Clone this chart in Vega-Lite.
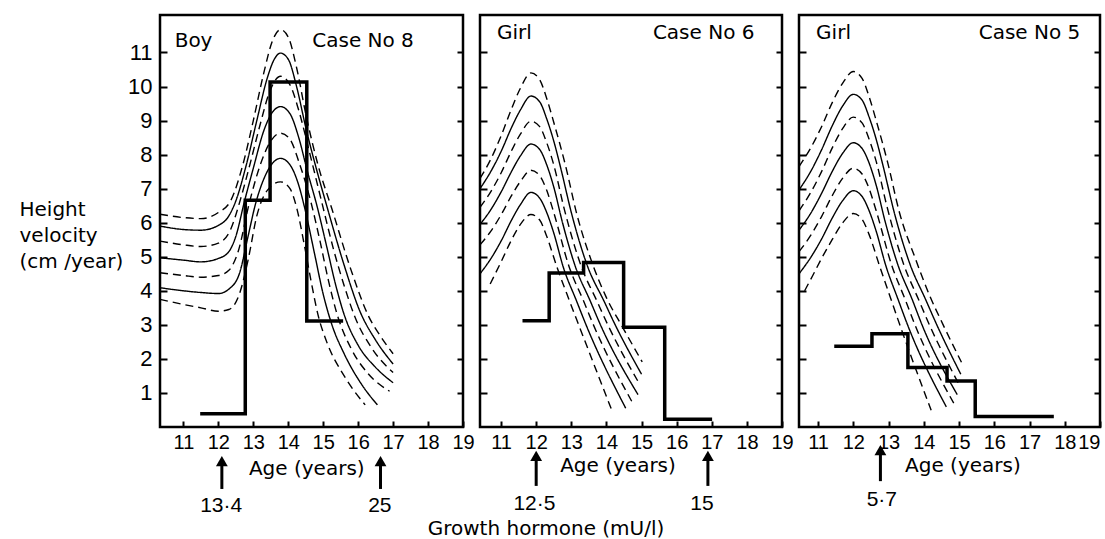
{
  "$schema": "https://vega.github.io/schema/vega-lite/v6.json",
  "background": "white",
  "autosize": {"type": "pad"},
  "padding": {"left": 17, "top": 13, "right": 0, "bottom": 0},
  "spacing": 17,
  "bounds": "flush",
  "config": {
    "view": {"stroke": "black", "strokeWidth": 2.5},
    "axis": {"domain": false, "grid": false, "tickColor": "black", "tickWidth": 2, "labelColor": "black", "titleColor": "black", "labelFont": "Liberation Sans Narrow, Liberation Sans"}
  },
  "datasets": {
    "curves": [
      {"p":1,"c":"c1","t":"dashed","age":10.33,"v":6.25},{"p":1,"c":"c1","t":"dashed","age":11,"v":6.15},{"p":1,"c":"c1","t":"dashed","age":11.5,"v":6.12},{"p":1,"c":"c1","t":"dashed","age":12,"v":6.3},{"p":1,"c":"c1","t":"dashed","age":12.35,"v":6.64},{"p":1,"c":"c1","t":"dashed","age":12.7,"v":7.7},{"p":1,"c":"c1","t":"dashed","age":13.0,"v":9.0},{"p":1,"c":"c1","t":"dashed","age":13.3,"v":10.4},{"p":1,"c":"c1","t":"dashed","age":13.55,"v":11.35},{"p":1,"c":"c1","t":"dashed","age":13.78,"v":11.67},{"p":1,"c":"c1","t":"dashed","age":14.0,"v":11.45},{"p":1,"c":"c1","t":"dashed","age":14.25,"v":10.5},{"p":1,"c":"c1","t":"dashed","age":14.5,"v":9.2},{"p":1,"c":"c1","t":"dashed","age":14.85,"v":7.7},{"p":1,"c":"c1","t":"dashed","age":15.25,"v":6.4},{"p":1,"c":"c1","t":"dashed","age":15.8,"v":4.6},{"p":1,"c":"c1","t":"dashed","age":16.3,"v":3.25},{"p":1,"c":"c1","t":"dashed","age":16.65,"v":2.65},{"p":1,"c":"c1","t":"dashed","age":17.0,"v":2.15},
      {"p":1,"c":"c2","t":"solid","age":10.33,"v":5.9},{"p":1,"c":"c2","t":"solid","age":11,"v":5.8},{"p":1,"c":"c2","t":"solid","age":11.5,"v":5.78},{"p":1,"c":"c2","t":"solid","age":12,"v":5.92},{"p":1,"c":"c2","t":"solid","age":12.3,"v":6.2},{"p":1,"c":"c2","t":"solid","age":12.5,"v":6.64},{"p":1,"c":"c2","t":"solid","age":12.8,"v":7.7},{"p":1,"c":"c2","t":"solid","age":13.1,"v":9.0},{"p":1,"c":"c2","t":"solid","age":13.4,"v":10.25},{"p":1,"c":"c2","t":"solid","age":13.6,"v":10.8},{"p":1,"c":"c2","t":"solid","age":13.78,"v":10.98},{"p":1,"c":"c2","t":"solid","age":14.0,"v":10.8},{"p":1,"c":"c2","t":"solid","age":14.25,"v":9.95},{"p":1,"c":"c2","t":"solid","age":14.5,"v":8.8},{"p":1,"c":"c2","t":"solid","age":14.8,"v":7.6},{"p":1,"c":"c2","t":"solid","age":15.1,"v":6.5},{"p":1,"c":"c2","t":"solid","age":15.6,"v":4.75},{"p":1,"c":"c2","t":"solid","age":16.05,"v":3.4},{"p":1,"c":"c2","t":"solid","age":16.5,"v":2.55},{"p":1,"c":"c2","t":"solid","age":17.0,"v":1.85},
      {"p":1,"c":"c3","t":"dashed","age":10.33,"v":5.46},{"p":1,"c":"c3","t":"dashed","age":11,"v":5.35},{"p":1,"c":"c3","t":"dashed","age":11.5,"v":5.3},{"p":1,"c":"c3","t":"dashed","age":12,"v":5.4},{"p":1,"c":"c3","t":"dashed","age":12.35,"v":5.8},{"p":1,"c":"c3","t":"dashed","age":12.62,"v":6.64},{"p":1,"c":"c3","t":"dashed","age":12.9,"v":7.7},{"p":1,"c":"c3","t":"dashed","age":13.2,"v":8.9},{"p":1,"c":"c3","t":"dashed","age":13.45,"v":9.8},{"p":1,"c":"c3","t":"dashed","age":13.78,"v":10.3},{"p":1,"c":"c3","t":"dashed","age":14.05,"v":10.05},{"p":1,"c":"c3","t":"dashed","age":14.3,"v":9.3},{"p":1,"c":"c3","t":"dashed","age":14.6,"v":8.1},{"p":1,"c":"c3","t":"dashed","age":14.95,"v":6.64},{"p":1,"c":"c3","t":"dashed","age":15.3,"v":5.2},{"p":1,"c":"c3","t":"dashed","age":15.6,"v":4.15},{"p":1,"c":"c3","t":"dashed","age":15.9,"v":3.25},{"p":1,"c":"c3","t":"dashed","age":16.4,"v":2.3},{"p":1,"c":"c3","t":"dashed","age":17.0,"v":1.6},
      {"p":1,"c":"c4","t":"solid","age":10.33,"v":4.97},{"p":1,"c":"c4","t":"solid","age":11,"v":4.9},{"p":1,"c":"c4","t":"solid","age":11.5,"v":4.85},{"p":1,"c":"c4","t":"solid","age":12,"v":4.95},{"p":1,"c":"c4","t":"solid","age":12.3,"v":5.15},{"p":1,"c":"c4","t":"solid","age":12.5,"v":5.6},{"p":1,"c":"c4","t":"solid","age":12.75,"v":6.64},{"p":1,"c":"c4","t":"solid","age":13.0,"v":7.6},{"p":1,"c":"c4","t":"solid","age":13.3,"v":8.7},{"p":1,"c":"c4","t":"solid","age":13.55,"v":9.25},{"p":1,"c":"c4","t":"solid","age":13.78,"v":9.41},{"p":1,"c":"c4","t":"solid","age":14.05,"v":9.2},{"p":1,"c":"c4","t":"solid","age":14.3,"v":8.5},{"p":1,"c":"c4","t":"solid","age":14.55,"v":7.5},{"p":1,"c":"c4","t":"solid","age":14.82,"v":6.5},{"p":1,"c":"c4","t":"solid","age":15.1,"v":5.3},{"p":1,"c":"c4","t":"solid","age":15.35,"v":4.2},{"p":1,"c":"c4","t":"solid","age":15.6,"v":3.3},{"p":1,"c":"c4","t":"solid","age":16.0,"v":2.4},{"p":1,"c":"c4","t":"solid","age":16.5,"v":1.75},{"p":1,"c":"c4","t":"solid","age":17.0,"v":1.3},
      {"p":1,"c":"c5","t":"dashed","age":10.33,"v":4.53},{"p":1,"c":"c5","t":"dashed","age":11,"v":4.45},{"p":1,"c":"c5","t":"dashed","age":11.5,"v":4.4},{"p":1,"c":"c5","t":"dashed","age":12,"v":4.45},{"p":1,"c":"c5","t":"dashed","age":12.3,"v":4.6},{"p":1,"c":"c5","t":"dashed","age":12.55,"v":5.1},{"p":1,"c":"c5","t":"dashed","age":12.9,"v":6.64},{"p":1,"c":"c5","t":"dashed","age":13.2,"v":7.7},{"p":1,"c":"c5","t":"dashed","age":13.5,"v":8.4},{"p":1,"c":"c5","t":"dashed","age":13.78,"v":8.63},{"p":1,"c":"c5","t":"dashed","age":14.05,"v":8.45},{"p":1,"c":"c5","t":"dashed","age":14.3,"v":7.8},{"p":1,"c":"c5","t":"dashed","age":14.65,"v":6.6},{"p":1,"c":"c5","t":"dashed","age":14.9,"v":5.5},{"p":1,"c":"c5","t":"dashed","age":15.15,"v":4.3},{"p":1,"c":"c5","t":"dashed","age":15.4,"v":3.3},{"p":1,"c":"c5","t":"dashed","age":15.8,"v":2.3},{"p":1,"c":"c5","t":"dashed","age":16.3,"v":1.55},{"p":1,"c":"c5","t":"dashed","age":16.9,"v":1.05},
      {"p":1,"c":"c6","t":"solid","age":10.33,"v":4.09},{"p":1,"c":"c6","t":"solid","age":11,"v":4.0},{"p":1,"c":"c6","t":"solid","age":11.5,"v":3.95},{"p":1,"c":"c6","t":"solid","age":12,"v":3.92},{"p":1,"c":"c6","t":"solid","age":12.3,"v":4.05},{"p":1,"c":"c6","t":"solid","age":12.6,"v":4.5},{"p":1,"c":"c6","t":"solid","age":12.85,"v":5.6},{"p":1,"c":"c6","t":"solid","age":13.05,"v":6.5},{"p":1,"c":"c6","t":"solid","age":13.35,"v":7.4},{"p":1,"c":"c6","t":"solid","age":13.78,"v":7.89},{"p":1,"c":"c6","t":"solid","age":14.05,"v":7.7},{"p":1,"c":"c6","t":"solid","age":14.3,"v":7.1},{"p":1,"c":"c6","t":"solid","age":14.5,"v":6.3},{"p":1,"c":"c6","t":"solid","age":14.75,"v":5.1},{"p":1,"c":"c6","t":"solid","age":15.0,"v":3.9},{"p":1,"c":"c6","t":"solid","age":15.25,"v":3.0},{"p":1,"c":"c6","t":"solid","age":15.6,"v":2.15},{"p":1,"c":"c6","t":"solid","age":16.1,"v":1.25},{"p":1,"c":"c6","t":"solid","age":16.55,"v":0.65},
      {"p":1,"c":"c7","t":"dashed","age":10.33,"v":3.75},{"p":1,"c":"c7","t":"dashed","age":11,"v":3.6},{"p":1,"c":"c7","t":"dashed","age":11.5,"v":3.5},{"p":1,"c":"c7","t":"dashed","age":12,"v":3.4},{"p":1,"c":"c7","t":"dashed","age":12.3,"v":3.45},{"p":1,"c":"c7","t":"dashed","age":12.6,"v":3.9},{"p":1,"c":"c7","t":"dashed","age":12.85,"v":4.9},{"p":1,"c":"c7","t":"dashed","age":13.1,"v":6.2},{"p":1,"c":"c7","t":"dashed","age":13.4,"v":6.95},{"p":1,"c":"c7","t":"dashed","age":13.78,"v":7.2},{"p":1,"c":"c7","t":"dashed","age":14.05,"v":7.0},{"p":1,"c":"c7","t":"dashed","age":14.25,"v":6.4},{"p":1,"c":"c7","t":"dashed","age":14.45,"v":5.4},{"p":1,"c":"c7","t":"dashed","age":14.65,"v":4.3},{"p":1,"c":"c7","t":"dashed","age":14.85,"v":3.3},{"p":1,"c":"c7","t":"dashed","age":15.1,"v":2.5},{"p":1,"c":"c7","t":"dashed","age":15.6,"v":1.5},{"p":1,"c":"c7","t":"dashed","age":16.2,"v":0.65},

      {"p":2,"c":"d1","t":"dashed","age":10.4,"v":7.3},{"p":2,"c":"d1","t":"dashed","age":10.7,"v":7.85},{"p":2,"c":"d1","t":"dashed","age":11.0,"v":8.55},{"p":2,"c":"d1","t":"dashed","age":11.3,"v":9.35},{"p":2,"c":"d1","t":"dashed","age":11.55,"v":9.95},{"p":2,"c":"d1","t":"dashed","age":11.85,"v":10.4},{"p":2,"c":"d1","t":"dashed","age":12.1,"v":10.2},{"p":2,"c":"d1","t":"dashed","age":12.3,"v":9.65},{"p":2,"c":"d1","t":"dashed","age":12.5,"v":8.95},{"p":2,"c":"d1","t":"dashed","age":12.83,"v":7.7},{"p":2,"c":"d1","t":"dashed","age":13.16,"v":6.24},{"p":2,"c":"d1","t":"dashed","age":13.6,"v":4.8},{"p":2,"c":"d1","t":"dashed","age":14.0,"v":3.8},{"p":2,"c":"d1","t":"dashed","age":14.45,"v":2.95},{"p":2,"c":"d1","t":"dashed","age":15.02,"v":1.91},
      {"p":2,"c":"d2","t":"solid","age":10.4,"v":7.0},{"p":2,"c":"d2","t":"solid","age":10.7,"v":7.49},{"p":2,"c":"d2","t":"solid","age":11.0,"v":8.09},{"p":2,"c":"d2","t":"solid","age":11.3,"v":8.8},{"p":2,"c":"d2","t":"solid","age":11.55,"v":9.31},{"p":2,"c":"d2","t":"solid","age":11.85,"v":9.72},{"p":2,"c":"d2","t":"solid","age":12.1,"v":9.55},{"p":2,"c":"d2","t":"solid","age":12.3,"v":9.05},{"p":2,"c":"d2","t":"solid","age":12.5,"v":8.4},{"p":2,"c":"d2","t":"solid","age":12.7,"v":7.6},{"p":2,"c":"d2","t":"solid","age":13.0,"v":6.3},{"p":2,"c":"d2","t":"solid","age":13.47,"v":4.7},{"p":2,"c":"d2","t":"solid","age":13.93,"v":3.7},{"p":2,"c":"d2","t":"solid","age":14.25,"v":3.0},{"p":2,"c":"d2","t":"solid","age":15.0,"v":1.55},
      {"p":2,"c":"d3","t":"dashed","age":10.4,"v":6.45},{"p":2,"c":"d3","t":"dashed","age":10.7,"v":6.9},{"p":2,"c":"d3","t":"dashed","age":11.0,"v":7.46},{"p":2,"c":"d3","t":"dashed","age":11.3,"v":8.12},{"p":2,"c":"d3","t":"dashed","age":11.55,"v":8.6},{"p":2,"c":"d3","t":"dashed","age":11.85,"v":8.98},{"p":2,"c":"d3","t":"dashed","age":12.1,"v":8.82},{"p":2,"c":"d3","t":"dashed","age":12.3,"v":8.35},{"p":2,"c":"d3","t":"dashed","age":12.5,"v":7.7},{"p":2,"c":"d3","t":"dashed","age":12.8,"v":6.4},{"p":2,"c":"d3","t":"dashed","age":13.29,"v":4.7},{"p":2,"c":"d3","t":"dashed","age":13.73,"v":3.7},{"p":2,"c":"d3","t":"dashed","age":14.04,"v":3.0},{"p":2,"c":"d3","t":"dashed","age":14.95,"v":1.25},
      {"p":2,"c":"d4","t":"solid","age":10.4,"v":5.95},{"p":2,"c":"d4","t":"solid","age":10.7,"v":6.37},{"p":2,"c":"d4","t":"solid","age":11.0,"v":6.9},{"p":2,"c":"d4","t":"solid","age":11.3,"v":7.51},{"p":2,"c":"d4","t":"solid","age":11.55,"v":7.96},{"p":2,"c":"d4","t":"solid","age":11.85,"v":8.31},{"p":2,"c":"d4","t":"solid","age":12.1,"v":8.15},{"p":2,"c":"d4","t":"solid","age":12.3,"v":7.7},{"p":2,"c":"d4","t":"solid","age":12.5,"v":7.05},{"p":2,"c":"d4","t":"solid","age":12.75,"v":6.0},{"p":2,"c":"d4","t":"solid","age":13.12,"v":4.7},{"p":2,"c":"d4","t":"solid","age":13.54,"v":3.7},{"p":2,"c":"d4","t":"solid","age":13.83,"v":3.0},{"p":2,"c":"d4","t":"solid","age":14.9,"v":0.95},
      {"p":2,"c":"d5","t":"dashed","age":10.4,"v":5.35},{"p":2,"c":"d5","t":"dashed","age":10.7,"v":5.74},{"p":2,"c":"d5","t":"dashed","age":11.0,"v":6.23},{"p":2,"c":"d5","t":"dashed","age":11.3,"v":6.8},{"p":2,"c":"d5","t":"dashed","age":11.55,"v":7.21},{"p":2,"c":"d5","t":"dashed","age":11.85,"v":7.54},{"p":2,"c":"d5","t":"dashed","age":12.1,"v":7.38},{"p":2,"c":"d5","t":"dashed","age":12.3,"v":6.95},{"p":2,"c":"d5","t":"dashed","age":12.5,"v":6.3},{"p":2,"c":"d5","t":"dashed","age":12.94,"v":4.7},{"p":2,"c":"d5","t":"dashed","age":13.35,"v":3.7},{"p":2,"c":"d5","t":"dashed","age":13.63,"v":3.0},{"p":2,"c":"d5","t":"dashed","age":14.75,"v":0.7},
      {"p":2,"c":"d6","t":"solid","age":10.4,"v":4.5},{"p":2,"c":"d6","t":"solid","age":10.7,"v":4.93},{"p":2,"c":"d6","t":"solid","age":11.0,"v":5.46},{"p":2,"c":"d6","t":"solid","age":11.3,"v":6.08},{"p":2,"c":"d6","t":"solid","age":11.55,"v":6.53},{"p":2,"c":"d6","t":"solid","age":11.85,"v":6.89},{"p":2,"c":"d6","t":"solid","age":12.1,"v":6.72},{"p":2,"c":"d6","t":"solid","age":12.3,"v":6.3},{"p":2,"c":"d6","t":"solid","age":12.5,"v":5.7},{"p":2,"c":"d6","t":"solid","age":12.77,"v":4.7},{"p":2,"c":"d6","t":"solid","age":13.15,"v":3.7},{"p":2,"c":"d6","t":"solid","age":13.42,"v":3.0},{"p":2,"c":"d6","t":"solid","age":14.55,"v":0.55},
      {"p":2,"c":"d7","t":"dashed","age":10.69,"v":4.2},{"p":2,"c":"d7","t":"dashed","age":11.0,"v":4.85},{"p":2,"c":"d7","t":"dashed","age":11.3,"v":5.5},{"p":2,"c":"d7","t":"dashed","age":11.55,"v":5.95},{"p":2,"c":"d7","t":"dashed","age":11.85,"v":6.24},{"p":2,"c":"d7","t":"dashed","age":12.1,"v":6.08},{"p":2,"c":"d7","t":"dashed","age":12.3,"v":5.6},{"p":2,"c":"d7","t":"dashed","age":12.59,"v":4.7},{"p":2,"c":"d7","t":"dashed","age":12.95,"v":3.7},{"p":2,"c":"d7","t":"dashed","age":13.21,"v":3.0},{"p":2,"c":"d7","t":"dashed","age":14.15,"v":0.5},

      {"p":3,"c":"e1","t":"dashed","age":10.46,"v":7.65},{"p":3,"c":"e1","t":"dashed","age":10.8,"v":8.21},{"p":3,"c":"e1","t":"dashed","age":11.1,"v":8.82},{"p":3,"c":"e1","t":"dashed","age":11.4,"v":9.52},{"p":3,"c":"e1","t":"dashed","age":11.7,"v":10.1},{"p":3,"c":"e1","t":"dashed","age":12.0,"v":10.44},{"p":3,"c":"e1","t":"dashed","age":12.25,"v":10.24},{"p":3,"c":"e1","t":"dashed","age":12.45,"v":9.7},{"p":3,"c":"e1","t":"dashed","age":12.65,"v":9.0},{"p":3,"c":"e1","t":"dashed","age":12.98,"v":7.75},{"p":3,"c":"e1","t":"dashed","age":13.31,"v":6.3},{"p":3,"c":"e1","t":"dashed","age":13.76,"v":4.95},{"p":3,"c":"e1","t":"dashed","age":14.15,"v":3.9},{"p":3,"c":"e1","t":"dashed","age":14.55,"v":3.0},{"p":3,"c":"e1","t":"dashed","age":15.07,"v":1.9},
      {"p":3,"c":"e2","t":"solid","age":10.46,"v":6.96},{"p":3,"c":"e2","t":"solid","age":10.8,"v":7.52},{"p":3,"c":"e2","t":"solid","age":11.1,"v":8.14},{"p":3,"c":"e2","t":"solid","age":11.4,"v":8.84},{"p":3,"c":"e2","t":"solid","age":11.7,"v":9.43},{"p":3,"c":"e2","t":"solid","age":12.0,"v":9.77},{"p":3,"c":"e2","t":"solid","age":12.25,"v":9.6},{"p":3,"c":"e2","t":"solid","age":12.45,"v":9.1},{"p":3,"c":"e2","t":"solid","age":12.65,"v":8.45},{"p":3,"c":"e2","t":"solid","age":12.85,"v":7.65},{"p":3,"c":"e2","t":"solid","age":13.15,"v":6.35},{"p":3,"c":"e2","t":"solid","age":13.62,"v":4.75},{"p":3,"c":"e2","t":"solid","age":14.05,"v":3.75},{"p":3,"c":"e2","t":"solid","age":14.37,"v":3.0},{"p":3,"c":"e2","t":"solid","age":15.05,"v":1.55},
      {"p":3,"c":"e3","t":"dashed","age":10.46,"v":6.35},{"p":3,"c":"e3","t":"dashed","age":10.8,"v":6.9},{"p":3,"c":"e3","t":"dashed","age":11.1,"v":7.5},{"p":3,"c":"e3","t":"dashed","age":11.4,"v":8.19},{"p":3,"c":"e3","t":"dashed","age":11.7,"v":8.77},{"p":3,"c":"e3","t":"dashed","age":12.0,"v":9.1},{"p":3,"c":"e3","t":"dashed","age":12.25,"v":8.93},{"p":3,"c":"e3","t":"dashed","age":12.45,"v":8.45},{"p":3,"c":"e3","t":"dashed","age":12.65,"v":7.8},{"p":3,"c":"e3","t":"dashed","age":12.95,"v":6.5},{"p":3,"c":"e3","t":"dashed","age":13.44,"v":4.75},{"p":3,"c":"e3","t":"dashed","age":13.85,"v":3.75},{"p":3,"c":"e3","t":"dashed","age":14.16,"v":3.0},{"p":3,"c":"e3","t":"dashed","age":15.0,"v":1.25},
      {"p":3,"c":"e4","t":"solid","age":10.46,"v":5.78},{"p":3,"c":"e4","t":"solid","age":10.8,"v":6.29},{"p":3,"c":"e4","t":"solid","age":11.1,"v":6.86},{"p":3,"c":"e4","t":"solid","age":11.4,"v":7.5},{"p":3,"c":"e4","t":"solid","age":11.7,"v":8.04},{"p":3,"c":"e4","t":"solid","age":12.0,"v":8.35},{"p":3,"c":"e4","t":"solid","age":12.25,"v":8.18},{"p":3,"c":"e4","t":"solid","age":12.45,"v":7.75},{"p":3,"c":"e4","t":"solid","age":12.65,"v":7.1},{"p":3,"c":"e4","t":"solid","age":12.9,"v":6.05},{"p":3,"c":"e4","t":"solid","age":13.27,"v":4.75},{"p":3,"c":"e4","t":"solid","age":13.67,"v":3.75},{"p":3,"c":"e4","t":"solid","age":13.95,"v":3.0},{"p":3,"c":"e4","t":"solid","age":14.95,"v":0.95},
      {"p":3,"c":"e5","t":"dashed","age":10.46,"v":5.15},{"p":3,"c":"e5","t":"dashed","age":10.8,"v":5.64},{"p":3,"c":"e5","t":"dashed","age":11.1,"v":6.18},{"p":3,"c":"e5","t":"dashed","age":11.4,"v":6.79},{"p":3,"c":"e5","t":"dashed","age":11.7,"v":7.31},{"p":3,"c":"e5","t":"dashed","age":12.0,"v":7.6},{"p":3,"c":"e5","t":"dashed","age":12.25,"v":7.43},{"p":3,"c":"e5","t":"dashed","age":12.45,"v":7.0},{"p":3,"c":"e5","t":"dashed","age":12.65,"v":6.35},{"p":3,"c":"e5","t":"dashed","age":13.09,"v":4.75},{"p":3,"c":"e5","t":"dashed","age":13.47,"v":3.75},{"p":3,"c":"e5","t":"dashed","age":13.75,"v":3.0},{"p":3,"c":"e5","t":"dashed","age":14.85,"v":0.7},
      {"p":3,"c":"e6","t":"solid","age":10.46,"v":4.5},{"p":3,"c":"e6","t":"solid","age":10.8,"v":4.99},{"p":3,"c":"e6","t":"solid","age":11.1,"v":5.52},{"p":3,"c":"e6","t":"solid","age":11.4,"v":6.13},{"p":3,"c":"e6","t":"solid","age":11.7,"v":6.65},{"p":3,"c":"e6","t":"solid","age":12.0,"v":6.94},{"p":3,"c":"e6","t":"solid","age":12.25,"v":6.77},{"p":3,"c":"e6","t":"solid","age":12.45,"v":6.35},{"p":3,"c":"e6","t":"solid","age":12.65,"v":5.75},{"p":3,"c":"e6","t":"solid","age":12.92,"v":4.75},{"p":3,"c":"e6","t":"solid","age":13.27,"v":3.75},{"p":3,"c":"e6","t":"solid","age":13.54,"v":3.0},{"p":3,"c":"e6","t":"solid","age":14.64,"v":0.59},
      {"p":3,"c":"e7","t":"dashed","age":10.62,"v":4.0},{"p":3,"c":"e7","t":"dashed","age":10.85,"v":4.45},{"p":3,"c":"e7","t":"dashed","age":11.1,"v":4.95},{"p":3,"c":"e7","t":"dashed","age":11.4,"v":5.5},{"p":3,"c":"e7","t":"dashed","age":11.7,"v":6.0},{"p":3,"c":"e7","t":"dashed","age":12.0,"v":6.27},{"p":3,"c":"e7","t":"dashed","age":12.25,"v":6.1},{"p":3,"c":"e7","t":"dashed","age":12.45,"v":5.65},{"p":3,"c":"e7","t":"dashed","age":12.74,"v":4.75},{"p":3,"c":"e7","t":"dashed","age":13.07,"v":3.75},{"p":3,"c":"e7","t":"dashed","age":13.32,"v":3.0},{"p":3,"c":"e7","t":"dashed","age":14.21,"v":0.49}
    ],
    "steps": [
      {"p":1,"age":11.48,"v":0.39},{"p":1,"age":12.77,"v":6.66},{"p":1,"age":13.48,"v":10.13},{"p":1,"age":14.53,"v":3.11},{"p":1,"age":15.57,"v":3.11},
      {"p":2,"age":11.61,"v":3.12},{"p":2,"age":12.37,"v":4.52},{"p":2,"age":13.35,"v":4.83},{"p":2,"age":14.49,"v":2.93},{"p":2,"age":15.66,"v":0.23},{"p":2,"age":17.01,"v":0.23},
      {"p":3,"age":11.46,"v":2.37},{"p":3,"age":12.53,"v":2.74},{"p":3,"age":13.55,"v":1.75},{"p":3,"age":14.66,"v":1.35},{"p":3,"age":15.46,"v":0.31},{"p":3,"age":17.69,"v":0.31}
    ],
    "texts": [
      {"p":1,"k":"w","s":"Boy","age":11.29,"v":11.33},
      {"p":1,"k":"w","s":"Case No 8","age":16.14,"v":11.33},
      {"p":1,"k":"w","s":"Age (years)","age":14.53,"v":-1.22},
      {"p":1,"k":"n","s":"13·4","age":12.08,"v":-2.32},
      {"p":1,"k":"n","s":"25","age":16.62,"v":-2.32},
      {"p":2,"k":"w","s":"Girl","age":11.38,"v":11.56},
      {"p":2,"k":"w","s":"Case No 6","age":16.77,"v":11.56},
      {"p":2,"k":"w","s":"Age (years)","age":14.33,"v":-1.14},
      {"p":2,"k":"w","s":"Growth hormone (mU/l)","age":12.28,"v":-3.0},
      {"p":2,"k":"n","s":"12·5","age":11.95,"v":-2.26},
      {"p":2,"k":"n","s":"15","age":16.72,"v":-2.26},
      {"p":3,"k":"w","s":"Girl","age":11.44,"v":11.58},
      {"p":3,"k":"w","s":"Case No 5","age":17.0,"v":11.58},
      {"p":3,"k":"w","s":"Age (years)","age":15.11,"v":-1.14},
      {"p":3,"k":"n","s":"5·7","age":12.81,"v":-2.15}
    ],
    "arrows": [
      {"p":1,"age":12.1,"head":-1.0,"top":-1.1,"base":-1.82},
      {"p":1,"age":16.64,"head":-1.0,"top":-1.1,"base":-1.82},
      {"p":2,"age":12.0,"head":-0.85,"top":-0.95,"base":-1.73},
      {"p":2,"age":16.89,"head":-0.85,"top":-0.95,"base":-1.73},
      {"p":3,"age":12.77,"head":-0.68,"top":-0.78,"base":-1.59}
    ]
  },
  "hconcat": [
    {
      "width": 303, "height": 412,
      "resolve": {"axis": {"y": "independent"}},
      "layer": [
        {"data": {"name": "curves"}, "transform": [{"filter": "datum.p === 1"}],
         "mark": {"type": "line", "interpolate": "monotone", "strokeWidth": 1.4, "color": "black"},
         "encoding": {
           "x": {"field": "age", "type": "quantitative", "scale": {"domain": [10.33, 19], "nice": false, "zero": false}, "axis": {"values": [11,12,13,14,15,16,17,18,19], "tickSize": -6, "labelPadding": 11, "labelFontSize": 20, "labelFlush": false, "labelOverlap": false, "title": null}},
           "y": {"field": "v", "type": "quantitative", "scale": {"domain": [0, 12.1], "nice": false, "zero": false}, "axis": {"orient": "left", "values": [1,2,3,4,5,6,7,8,9,10,11], "tickSize": -7, "labelPadding": 15, "labelFontSize": 22, "labelFlush": false, "title": ["Height", "velocity", "(cm /year)"], "titleAngle": 0, "titleAlign": "left", "titleBaseline": "alphabetic", "titleX": -141, "titleY": 200, "titleFont": "DejaVu Sans", "titleFontSize": 20, "titleFontWeight": "normal", "titleLineHeight": 26}},
           "detail": {"field": "c"},
           "strokeDash": {"field": "t", "type": "nominal", "scale": {"domain": ["solid", "dashed"], "range": [[1, 0], [8, 5]]}, "legend": null}
         }},
        {"data": {"name": "steps"}, "transform": [{"filter": "datum.p === 1"}],
         "mark": {"type": "line", "interpolate": "step-after", "strokeWidth": 3.5, "color": "black"},
         "encoding": {
           "x": {"field": "age", "type": "quantitative", "scale": {"domain": [10.33, 19], "nice": false, "zero": false}, "axis": {"values": [11,12,13,14,15,16,17,18,19], "tickSize": -6, "labelPadding": 11, "labelFontSize": 20, "labelFlush": false, "labelOverlap": false, "title": null}},
           "y": {"field": "v", "type": "quantitative", "scale": {"domain": [0, 12.1], "nice": false, "zero": false}, "axis": {"orient": "right", "values": [1,2,3,4,5,6,7,8,9,10,11], "tickSize": -6, "labels": false, "title": null}}
         }},
        {"data": {"name": "texts"}, "transform": [{"filter": "datum.p === 1 && datum.k === 'w'"}],
         "mark": {"type": "text", "font": "DejaVu Sans", "fontSize": 20, "color": "black", "align": "center", "baseline": "middle"},
         "encoding": {
           "x": {"field": "age", "type": "quantitative", "scale": {"domain": [10.33, 19], "nice": false, "zero": false}, "axis": {"values": [11,12,13,14,15,16,17,18,19], "tickSize": -6, "labelPadding": 11, "labelFontSize": 20, "labelFlush": false, "labelOverlap": false, "title": null}},
           "y": {"field": "v", "type": "quantitative", "scale": {"domain": [0, 12.1], "nice": false, "zero": false}, "axis": null},
           "text": {"field": "s"}
         }},
        {"data": {"name": "texts"}, "transform": [{"filter": "datum.p === 1 && datum.k === 'n'"}],
         "mark": {"type": "text", "font": "Liberation Sans Narrow, Liberation Sans", "fontSize": 21, "color": "black", "align": "center", "baseline": "middle"},
         "encoding": {
           "x": {"field": "age", "type": "quantitative", "scale": {"domain": [10.33, 19], "nice": false, "zero": false}, "axis": {"values": [11,12,13,14,15,16,17,18,19], "tickSize": -6, "labelPadding": 11, "labelFontSize": 20, "labelFlush": false, "labelOverlap": false, "title": null}},
           "y": {"field": "v", "type": "quantitative", "scale": {"domain": [0, 12.1], "nice": false, "zero": false}, "axis": null},
           "text": {"field": "s"}
         }},
        {"data": {"name": "arrows"}, "transform": [{"filter": "datum.p === 1"}],
         "mark": {"type": "rule", "strokeWidth": 3, "color": "black"},
         "encoding": {
           "x": {"field": "age", "type": "quantitative", "scale": {"domain": [10.33, 19], "nice": false, "zero": false}, "axis": {"values": [11,12,13,14,15,16,17,18,19], "tickSize": -6, "labelPadding": 11, "labelFontSize": 20, "labelFlush": false, "labelOverlap": false, "title": null}},
           "y": {"field": "top", "type": "quantitative", "scale": {"domain": [0, 12.1], "nice": false, "zero": false}, "axis": null},
           "y2": {"field": "base"}
         }},
        {"data": {"name": "arrows"}, "transform": [{"filter": "datum.p === 1"}],
         "mark": {"type": "point", "shape": "triangle-up", "size": 140, "filled": true, "color": "black", "opacity": 1},
         "encoding": {
           "x": {"field": "age", "type": "quantitative", "scale": {"domain": [10.33, 19], "nice": false, "zero": false}, "axis": {"values": [11,12,13,14,15,16,17,18,19], "tickSize": -6, "labelPadding": 11, "labelFontSize": 20, "labelFlush": false, "labelOverlap": false, "title": null}},
           "y": {"field": "head", "type": "quantitative", "scale": {"domain": [0, 12.1], "nice": false, "zero": false}, "axis": null}
         }}
      ]
    },
    {
      "width": 302, "height": 412,
      "resolve": {"axis": {"y": "independent"}},
      "layer": [
        {"data": {"name": "curves"}, "transform": [{"filter": "datum.p === 2"}],
         "mark": {"type": "line", "interpolate": "monotone", "strokeWidth": 1.4, "color": "black"},
         "encoding": {
           "x": {"field": "age", "type": "quantitative", "scale": {"domain": [10.4, 19], "nice": false, "zero": false}, "axis": {"values": [11,12,13,14,15,16,17,18,19], "tickSize": -6, "labelPadding": 11, "labelFontSize": 20, "labelFlush": false, "labelOverlap": false, "title": null}},
           "y": {"field": "v", "type": "quantitative", "scale": {"domain": [0, 12.1], "nice": false, "zero": false}, "axis": {"orient": "left", "values": [1,2,3,4,5,6,7,8,9,10,11], "tickSize": -7, "labels": false, "title": null}},
           "detail": {"field": "c"},
           "strokeDash": {"field": "t", "type": "nominal", "scale": {"domain": ["solid", "dashed"], "range": [[1, 0], [8, 5]]}, "legend": null}
         }},
        {"data": {"name": "steps"}, "transform": [{"filter": "datum.p === 2"}],
         "mark": {"type": "line", "interpolate": "step-after", "strokeWidth": 3.5, "color": "black"},
         "encoding": {
           "x": {"field": "age", "type": "quantitative", "scale": {"domain": [10.4, 19], "nice": false, "zero": false}, "axis": {"values": [11,12,13,14,15,16,17,18,19], "tickSize": -6, "labelPadding": 11, "labelFontSize": 20, "labelFlush": false, "labelOverlap": false, "title": null}},
           "y": {"field": "v", "type": "quantitative", "scale": {"domain": [0, 12.1], "nice": false, "zero": false}, "axis": {"orient": "right", "values": [1,2,3,4,5,6,7,8,9,10,11], "tickSize": -6, "labels": false, "title": null}}
         }},
        {"data": {"name": "texts"}, "transform": [{"filter": "datum.p === 2 && datum.k === 'w'"}],
         "mark": {"type": "text", "font": "DejaVu Sans", "fontSize": 20, "color": "black", "align": "center", "baseline": "middle"},
         "encoding": {
           "x": {"field": "age", "type": "quantitative", "scale": {"domain": [10.4, 19], "nice": false, "zero": false}, "axis": {"values": [11,12,13,14,15,16,17,18,19], "tickSize": -6, "labelPadding": 11, "labelFontSize": 20, "labelFlush": false, "labelOverlap": false, "title": null}},
           "y": {"field": "v", "type": "quantitative", "scale": {"domain": [0, 12.1], "nice": false, "zero": false}, "axis": null},
           "text": {"field": "s"}
         }},
        {"data": {"name": "texts"}, "transform": [{"filter": "datum.p === 2 && datum.k === 'n'"}],
         "mark": {"type": "text", "font": "Liberation Sans Narrow, Liberation Sans", "fontSize": 21, "color": "black", "align": "center", "baseline": "middle"},
         "encoding": {
           "x": {"field": "age", "type": "quantitative", "scale": {"domain": [10.4, 19], "nice": false, "zero": false}, "axis": {"values": [11,12,13,14,15,16,17,18,19], "tickSize": -6, "labelPadding": 11, "labelFontSize": 20, "labelFlush": false, "labelOverlap": false, "title": null}},
           "y": {"field": "v", "type": "quantitative", "scale": {"domain": [0, 12.1], "nice": false, "zero": false}, "axis": null},
           "text": {"field": "s"}
         }},
        {"data": {"name": "arrows"}, "transform": [{"filter": "datum.p === 2"}],
         "mark": {"type": "rule", "strokeWidth": 3, "color": "black"},
         "encoding": {
           "x": {"field": "age", "type": "quantitative", "scale": {"domain": [10.4, 19], "nice": false, "zero": false}, "axis": {"values": [11,12,13,14,15,16,17,18,19], "tickSize": -6, "labelPadding": 11, "labelFontSize": 20, "labelFlush": false, "labelOverlap": false, "title": null}},
           "y": {"field": "top", "type": "quantitative", "scale": {"domain": [0, 12.1], "nice": false, "zero": false}, "axis": null},
           "y2": {"field": "base"}
         }},
        {"data": {"name": "arrows"}, "transform": [{"filter": "datum.p === 2"}],
         "mark": {"type": "point", "shape": "triangle-up", "size": 140, "filled": true, "color": "black", "opacity": 1},
         "encoding": {
           "x": {"field": "age", "type": "quantitative", "scale": {"domain": [10.4, 19], "nice": false, "zero": false}, "axis": {"values": [11,12,13,14,15,16,17,18,19], "tickSize": -6, "labelPadding": 11, "labelFontSize": 20, "labelFlush": false, "labelOverlap": false, "title": null}},
           "y": {"field": "head", "type": "quantitative", "scale": {"domain": [0, 12.1], "nice": false, "zero": false}, "axis": null}
         }}
      ]
    },
    {
      "width": 301, "height": 412,
      "resolve": {"axis": {"y": "independent"}},
      "layer": [
        {"data": {"name": "curves"}, "transform": [{"filter": "datum.p === 3"}],
         "mark": {"type": "line", "interpolate": "monotone", "strokeWidth": 1.4, "color": "black"},
         "encoding": {
           "x": {"field": "age", "type": "quantitative", "scale": {"domain": [10.46, 19], "nice": false, "zero": false}, "axis": {"values": [11,12,13,14,15,16,17,18,19], "tickSize": -6, "labelPadding": 11, "labelFontSize": 20, "labelFlush": true, "labelOverlap": false, "title": null}},
           "y": {"field": "v", "type": "quantitative", "scale": {"domain": [0, 12.1], "nice": false, "zero": false}, "axis": {"orient": "left", "values": [1,2,3,4,5,6,7,8,9,10,11], "tickSize": -7, "labels": false, "title": null}},
           "detail": {"field": "c"},
           "strokeDash": {"field": "t", "type": "nominal", "scale": {"domain": ["solid", "dashed"], "range": [[1, 0], [8, 5]]}, "legend": null}
         }},
        {"data": {"name": "steps"}, "transform": [{"filter": "datum.p === 3"}],
         "mark": {"type": "line", "interpolate": "step-after", "strokeWidth": 3.5, "color": "black"},
         "encoding": {
           "x": {"field": "age", "type": "quantitative", "scale": {"domain": [10.46, 19], "nice": false, "zero": false}, "axis": {"values": [11,12,13,14,15,16,17,18,19], "tickSize": -6, "labelPadding": 11, "labelFontSize": 20, "labelFlush": true, "labelOverlap": false, "title": null}},
           "y": {"field": "v", "type": "quantitative", "scale": {"domain": [0, 12.1], "nice": false, "zero": false}, "axis": {"orient": "right", "values": [1,2,3,4,5,6,7,8,9,10,11], "tickSize": -6, "labels": false, "title": null}}
         }},
        {"data": {"name": "texts"}, "transform": [{"filter": "datum.p === 3 && datum.k === 'w'"}],
         "mark": {"type": "text", "font": "DejaVu Sans", "fontSize": 20, "color": "black", "align": "center", "baseline": "middle"},
         "encoding": {
           "x": {"field": "age", "type": "quantitative", "scale": {"domain": [10.46, 19], "nice": false, "zero": false}, "axis": {"values": [11,12,13,14,15,16,17,18,19], "tickSize": -6, "labelPadding": 11, "labelFontSize": 20, "labelFlush": true, "labelOverlap": false, "title": null}},
           "y": {"field": "v", "type": "quantitative", "scale": {"domain": [0, 12.1], "nice": false, "zero": false}, "axis": null},
           "text": {"field": "s"}
         }},
        {"data": {"name": "texts"}, "transform": [{"filter": "datum.p === 3 && datum.k === 'n'"}],
         "mark": {"type": "text", "font": "Liberation Sans Narrow, Liberation Sans", "fontSize": 21, "color": "black", "align": "center", "baseline": "middle"},
         "encoding": {
           "x": {"field": "age", "type": "quantitative", "scale": {"domain": [10.46, 19], "nice": false, "zero": false}, "axis": {"values": [11,12,13,14,15,16,17,18,19], "tickSize": -6, "labelPadding": 11, "labelFontSize": 20, "labelFlush": true, "labelOverlap": false, "title": null}},
           "y": {"field": "v", "type": "quantitative", "scale": {"domain": [0, 12.1], "nice": false, "zero": false}, "axis": null},
           "text": {"field": "s"}
         }},
        {"data": {"name": "arrows"}, "transform": [{"filter": "datum.p === 3"}],
         "mark": {"type": "rule", "strokeWidth": 3, "color": "black"},
         "encoding": {
           "x": {"field": "age", "type": "quantitative", "scale": {"domain": [10.46, 19], "nice": false, "zero": false}, "axis": {"values": [11,12,13,14,15,16,17,18,19], "tickSize": -6, "labelPadding": 11, "labelFontSize": 20, "labelFlush": true, "labelOverlap": false, "title": null}},
           "y": {"field": "top", "type": "quantitative", "scale": {"domain": [0, 12.1], "nice": false, "zero": false}, "axis": null},
           "y2": {"field": "base"}
         }},
        {"data": {"name": "arrows"}, "transform": [{"filter": "datum.p === 3"}],
         "mark": {"type": "point", "shape": "triangle-up", "size": 140, "filled": true, "color": "black", "opacity": 1},
         "encoding": {
           "x": {"field": "age", "type": "quantitative", "scale": {"domain": [10.46, 19], "nice": false, "zero": false}, "axis": {"values": [11,12,13,14,15,16,17,18,19], "tickSize": -6, "labelPadding": 11, "labelFontSize": 20, "labelFlush": true, "labelOverlap": false, "title": null}},
           "y": {"field": "head", "type": "quantitative", "scale": {"domain": [0, 12.1], "nice": false, "zero": false}, "axis": null}
         }}
      ]
    }
  ]
}
